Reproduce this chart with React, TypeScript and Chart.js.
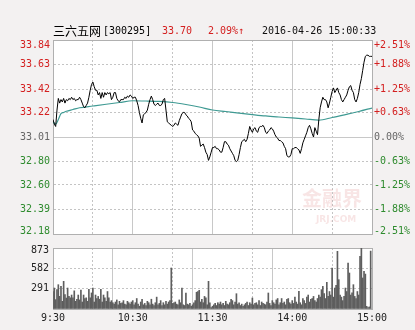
import React, { useEffect, useRef } from 'react';
import { Chart, registerables } from 'chart.js';

Chart.register(...registerables);

// ---------- header text ----------
const stockName = '三六五网';
const stockCode = '[300295]';
const lastPrice = '33.70';
const changePct = '2.09%↑';
const timestamp = '2016-04-26 15:00:33';

// ---------- axis tick labels (top to bottom) ----------
const priceTickLabels = ['33.84', '33.63', '33.42', '33.22', '33.01', '32.80', '32.60', '32.39', '32.18'];
const pctTickLabels = ['+2.51%', '+1.88%', '+1.25%', '+0.63%', '0.00%', '-0.63%', '-1.25%', '-1.88%', '-2.51%'];
const volumeTickValues = [0, 291, 582, 873];
const volumeTickLabels = ['', '291', '582', '873'];
const timeTickMinutes = [0, 30, 60, 90, 120, 150, 180, 210, 240];
const timeTickLabels = ['9:30', '', '10:30', '', '11:30', '', '14:00', '', '15:00'];

// ---------- series (one value per trading minute, 9:30 .. 15:00) ----------
const prices = [
  33.16, 33.12, 33.10, 33.24, 33.34, 33.30, 33.33, 33.31, 33.34, 33.30,
  33.33, 33.32, 33.34, 33.33, 33.35, 33.33, 33.34, 33.32, 33.33, 33.33,
  33.35, 33.33, 33.30, 33.27, 33.26, 33.28, 33.30, 33.35, 33.41, 33.46,
  33.48, 33.44, 33.41, 33.41, 33.37, 33.39, 33.34, 33.39, 33.35, 33.39,
  33.37, 33.39, 33.38, 33.39, 33.33, 33.35, 33.39, 33.39, 33.34, 33.32,
  33.31, 33.33, 33.33, 33.33, 33.35, 33.34, 33.36, 33.35, 33.37, 33.36,
  33.34, 33.35, 33.35, 33.32, 33.28, 33.22, 33.17, 33.13, 33.20, 33.21,
  33.22, 33.24, 33.29, 33.33, 33.36, 33.33, 33.29, 33.28, 33.29, 33.30,
  33.28, 33.28, 33.29, 33.33, 33.34, 33.24, 33.14, 33.13, 33.12, 33.11,
  33.10, 33.11, 33.13, 33.12, 33.11, 33.15, 33.18, 33.21, 33.22, 33.22,
  33.20, 33.19, 33.17, 33.16, 33.14, 33.07, 33.06, 33.04, 33.03, 33.02,
  33.00, 32.93, 32.94, 32.95, 32.92, 32.88, 32.86, 32.81, 32.84, 32.88,
  32.92, 32.92, 32.93, 32.91, 32.91, 32.90, 32.88, 32.88, 32.92, 32.97,
  32.97, 32.95, 32.94, 32.91, 32.89, 32.87, 32.85, 32.81, 32.80, 32.81,
  32.86, 32.92, 32.97, 32.98, 32.99, 32.97, 32.99, 33.04, 33.10, 33.07,
  33.05, 33.08, 33.09, 33.06, 33.05, 33.09, 33.10, 33.10, 33.11, 33.09,
  33.05, 33.04, 33.06, 33.07, 33.09, 33.08, 33.06, 33.03, 33.01, 33.00,
  32.98, 32.98, 32.97, 32.96, 32.93, 32.91, 32.85, 32.84, 32.84, 32.86,
  32.91, 32.91, 32.92, 32.92, 32.91, 32.90, 32.87, 32.91, 32.96, 32.99,
  33.02, 33.05, 33.09, 33.11, 33.08, 33.04, 33.01, 33.09, 33.06, 33.03,
  33.16, 33.26, 33.31, 33.35, 33.33, 33.33, 33.31, 33.26, 33.30, 33.35,
  33.40, 33.43, 33.39, 33.41, 33.43, 33.39, 33.37, 33.33, 33.31, 33.33,
  33.35, 33.37, 33.41, 33.44, 33.45, 33.41, 33.39, 33.33, 33.31, 33.34,
  33.39, 33.46, 33.51, 33.58, 33.65, 33.70, 33.71, 33.71, 33.70, 33.70,
  33.70,
];

const avgMinutes = [0, 2, 4, 6, 8, 10, 15, 20, 30, 40, 50, 60, 70, 80, 90, 100, 110, 120, 130, 140, 150, 160, 170, 180, 190, 200, 210, 220, 230, 240];
const avgPrices = [
  33.14, 33.12, 33.16, 33.21, 33.22, 33.23, 33.245, 33.26, 33.275, 33.29,
  33.305, 33.32, 33.318, 33.314, 33.305, 33.288, 33.267, 33.241, 33.228, 33.215,
  33.202, 33.19, 33.181, 33.173, 33.164, 33.155, 33.177, 33.202, 33.228, 33.258,
];

const volumes = [
  250, 300, 134, 277, 348, 181, 324, 110, 396, 205,
  157, 300, 181, 160, 200, 160, 260, 110, 140, 200,
  130, 270, 100, 200, 150, 160, 110, 280, 160, 230,
  300, 100, 200, 150, 180, 140, 280, 100, 200, 160,
  110, 250, 160, 100, 120, 90, 70, 100, 130, 60,
  110, 80, 90, 120, 70, 60, 110, 90, 70, 100,
  120, 60, 90, 150, 70, 40, 100, 140, 60, 80,
  50, 110, 90, 60, 140, 70, 50, 90, 170, 60,
  80, 120, 50, 90, 60, 110, 70, 100, 120, 587,
  80, 90, 100, 70, 60, 130, 90, 300, 60, 50,
  229, 70, 60, 80, 40, 60, 90, 120, 240, 250,
  267, 100, 140, 90, 180, 160, 60, 396, 90, 20,
  40, 60, 80, 50, 90, 70, 100, 60, 80, 50,
  110, 70, 60, 90, 140, 120, 60, 100, 219, 70,
  90, 50, 70, 40, 60, 80, 100, 50, 90, 70,
  157, 60, 80, 90, 60, 120, 50, 100, 80, 70,
  60, 100, 229, 80, 50, 120, 90, 70, 130, 150,
  60, 90, 150, 80, 100, 60, 140, 150, 90, 70,
  120, 80, 170, 100, 70, 253, 90, 60, 150, 120,
  80, 170, 200, 100, 140, 150, 180, 120, 100, 150,
  200, 170, 277, 324, 220, 150, 382, 180, 250, 200,
  587, 170, 300, 340, 825, 420, 200, 170, 120, 180,
  300, 250, 658, 515, 200, 230, 348, 180, 150, 250,
  200, 753, 873, 444, 539, 500, 38, 20, 30, 829,
  0,
];

// ---------- styles ----------
const MONO = '"DejaVu Sans Mono", "Liberation Mono", monospace';
const CJK = '"Noto Sans CJK SC", sans-serif';
const BG = '#f3f1f1';
const DASH = '#c4c4c4';
const SOLID = '#c8c8c8';
const BORDER = '#b0b0b0';
const RED = '#d42020';
const GREEN = '#2e8b2e';
const GRAY = '#666666';

const plotBg = {
  id: 'plotBg',
  beforeDraw(chart: any) {
    const { ctx, chartArea: a } = chart;
    ctx.save();
    ctx.fillStyle = '#ffffff';
    ctx.fillRect(a.left, a.top, a.right - a.left, a.bottom - a.top);
    ctx.restore();
  },
};

const ascPrice = [...priceTickLabels].reverse();
const ascPct = [...pctTickLabels].reverse();
const priceMin = parseFloat(ascPrice[0]);
const priceMax = parseFloat(ascPrice[ascPrice.length - 1]);
const lastIdx = ascPrice.length - 1;
const midIdx = Math.floor(lastIdx / 2);

const colorFor = (i: number) => (i > midIdx ? RED : i < midIdx ? GREEN : GRAY);
const offsetLabel = (text: string, i: number) =>
  i === lastIdx ? ['', text] : i === 0 ? [text, ''] : text;
const edgeFont = (c: any) => ({
  family: MONO,
  size: 10,
  lineHeight: c.index === lastIdx ? '10px' : c.index === 0 ? '6px' : 1.2,
});

const timeTicks = (s: any) => {
  s.ticks = timeTickMinutes.map((v) => ({ value: v }));
};
const priceTicks = (s: any) => {
  s.ticks = ascPrice.map((v) => ({ value: parseFloat(v) }));
};
const isHour = (c: any) => c.tick && c.tick.value % 60 === 0;
const isInnerHour = (c: any) => isHour(c) && c.tick.value > 0 && c.tick.value < 240;

function mainConfig(): any {
  return {
    type: 'line',
    data: {
      datasets: [
        {
          data: prices.map((p, i) => ({ x: i, y: p })),
          borderColor: '#000000',
          borderWidth: 1,
          pointRadius: 0,
          tension: 0,
          order: 0,
        },
        {
          data: avgMinutes.map((m, i) => ({ x: m, y: avgPrices[i] })),
          borderColor: '#3f9a93',
          borderWidth: 1.2,
          pointRadius: 0,
          cubicInterpolationMode: 'monotone',
          order: 1,
        },
      ],
    },
    options: {
      responsive: false,
      animation: false,
      devicePixelRatio: 1,
      events: [],
      layout: { padding: { top: 40, bottom: 6, left: 0, right: 0 }, autoPadding: false },
      plugins: { legend: { display: false }, tooltip: { enabled: false } },
      scales: {
        x: {
          type: 'linear', axis: 'x', position: 'bottom', min: 0, max: 240, offset: false,
          afterBuildTicks: timeTicks,
          afterFit: (s: any) => { s.height = 0; s.paddingLeft = 0; s.paddingRight = 0; },
          ticks: { display: false },
          grid: { drawTicks: false, color: (c: any) => (isHour(c) ? 'transparent' : DASH) },
          border: { display: true, color: BORDER, dash: [2, 2] },
        },
        xTop: {
          type: 'linear', axis: 'x', position: 'top', min: 0, max: 240, offset: false,
          afterBuildTicks: timeTicks,
          afterFit: (s: any) => { s.height = 0; s.paddingLeft = 0; s.paddingRight = 0; },
          ticks: { display: false },
          grid: { drawTicks: false, color: (c: any) => (isInnerHour(c) ? SOLID : 'transparent') },
          border: { display: true, color: BORDER },
        },
        y: {
          type: 'linear', position: 'left', min: priceMin, max: priceMax,
          afterBuildTicks: priceTicks,
          afterFit: (s: any) => { s.width = 53; s.paddingTop = 0; s.paddingBottom = 0; },
          ticks: {
            autoSkip: false, padding: 3,
            callback: (_v: any, i: number) => offsetLabel(ascPrice[i], i),
            color: (c: any) => colorFor(c.index),
            font: edgeFont,
          },
          grid: {
            drawTicks: false,
            color: (c: any) => (c.index === 0 || c.index === midIdx || c.index === lastIdx ? 'transparent' : DASH),
          },
          border: { color: BORDER, dash: [2, 2] },
        },
        yR: {
          type: 'linear', axis: 'y', position: 'right', min: priceMin, max: priceMax,
          afterBuildTicks: priceTicks,
          afterFit: (s: any) => { s.width = 43; s.paddingTop = 0; s.paddingBottom = 0; },
          ticks: {
            autoSkip: false, padding: 2,
            callback: (_v: any, i: number) => offsetLabel(ascPct[i], i),
            color: (c: any) => colorFor(c.index),
            font: edgeFont,
          },
          grid: { drawTicks: false, color: (c: any) => (c.index === midIdx ? SOLID : 'transparent') },
          border: { color: BORDER },
        },
      },
    },
    plugins: [plotBg],
  };
}

function volConfig(): any {
  return {
    type: 'bar',
    data: {
      datasets: [
        {
          data: volumes.map((v, i) => ({ x: i, y: v })),
          backgroundColor: '#5e5e5e',
          borderWidth: 0,
          barThickness: 1,
        },
      ],
    },
    options: {
      responsive: false,
      animation: false,
      devicePixelRatio: 1,
      events: [],
      layout: { padding: { top: 8, bottom: 0, left: 0, right: 43 }, autoPadding: false },
      plugins: { legend: { display: false }, tooltip: { enabled: false } },
      scales: {
        x: {
          type: 'linear', axis: 'x', position: 'bottom', min: 0, max: 240, offset: false,
          afterBuildTicks: timeTicks,
          afterFit: (s: any) => { s.height = 21; s.paddingLeft = 0; s.paddingRight = 0; },
          ticks: {
            autoSkip: false, maxRotation: 0, padding: 3, color: '#222',
            font: { family: MONO, size: 10 },
            callback: (_v: any, i: number) => timeTickLabels[i],
          },
          grid: { offset: false, drawTicks: false, color: (c: any) => (isHour(c) ? 'transparent' : DASH) },
          border: { display: true, color: BORDER, dash: [2, 2] },
        },
        xTop: {
          type: 'linear', axis: 'x', position: 'top', min: 0, max: 240, offset: false,
          afterBuildTicks: timeTicks,
          afterFit: (s: any) => { s.height = 0; s.paddingLeft = 0; s.paddingRight = 0; },
          ticks: { display: false },
          grid: { drawTicks: false, color: (c: any) => (isInnerHour(c) ? SOLID : 'transparent') },
          border: { display: true, color: BORDER },
        },
        y: {
          type: 'linear', position: 'left', min: 0, max: volumeTickValues[volumeTickValues.length - 1],
          afterBuildTicks: (s: any) => { s.ticks = volumeTickValues.map((v) => ({ value: v })); },
          afterFit: (s: any) => { s.width = 53; s.paddingTop = 0; s.paddingBottom = 0; },
          ticks: {
            autoSkip: false, padding: 4, color: '#222',
            callback: (_v: any, i: number) =>
              i === volumeTickValues.length - 1 ? ['', volumeTickLabels[i]] : volumeTickLabels[i],
            font: (c: any) => ({
              family: MONO, size: 10,
              lineHeight: c.index === volumeTickValues.length - 1 ? '4px' : 1.2,
            }),
          },
          grid: {
            drawTicks: false,
            color: (c: any) => (c.index === 0 || c.index === volumeTickValues.length - 1 ? 'transparent' : DASH),
          },
          border: { color: BORDER, dash: [2, 2] },
        },
        yR: {
          type: 'linear', axis: 'y', position: 'right', min: 0, max: volumeTickValues[volumeTickValues.length - 1],
          afterFit: (s: any) => { s.width = 0; s.paddingTop = 0; s.paddingBottom = 0; },
          ticks: { display: false },
          grid: { display: false },
          border: { display: true, color: BORDER },
        },
      },
    },
    plugins: [plotBg],
  };
}

const headerStyle = (left: number, color: string, family: string, size = 12): React.CSSProperties => ({
  position: 'absolute',
  left,
  top: 24,
  height: 14,
  lineHeight: '14px',
  fontSize: size,
  fontFamily: family,
  color,
  whiteSpace: 'nowrap',
});

export default function App() {
  const mainRef = useRef<HTMLCanvasElement>(null);
  const volRef = useRef<HTMLCanvasElement>(null);

  useEffect(() => {
    const main = new Chart(mainRef.current as HTMLCanvasElement, mainConfig());
    const vol = new Chart(volRef.current as HTMLCanvasElement, volConfig());
    return () => {
      main.destroy();
      vol.destroy();
    };
  }, []);

  return (
    <div style={{ position: 'fixed', left: 0, top: 0, width: 415, height: 330, background: BG, overflow: 'hidden' }}>
      <canvas ref={mainRef} width={415} height={240} style={{ position: 'absolute', left: 0, top: 0, display: 'block' }} />
      <canvas ref={volRef} width={415} height={90} style={{ position: 'absolute', left: 0, top: 240, display: 'block' }} />
      <div style={headerStyle(53, '#000', CJK)}>{stockName}</div>
      <div style={headerStyle(103, '#000', MONO, 10)}>{stockCode}</div>
      <div style={headerStyle(162, RED, MONO, 10)}>{lastPrice}</div>
      <div style={headerStyle(208, RED, MONO, 10)}>{changePct}</div>
      <div style={headerStyle(262, '#111', MONO, 10)}>{timestamp}</div>
      <div
        style={{
          position: 'absolute', left: 302, top: 186, fontSize: 20, lineHeight: '24px',
          fontFamily: CJK, fontWeight: 700, color: 'rgba(215,110,110,0.18)', pointerEvents: 'none',
        }}
      >
        金融界
      </div>
      <div
        style={{
          position: 'absolute', left: 316, top: 214, fontSize: 9, lineHeight: '10px',
          fontFamily: '"DejaVu Sans", sans-serif', fontWeight: 700, color: 'rgba(215,110,110,0.18)', pointerEvents: 'none',
        }}
      >
        JRJ.COM
      </div>
    </div>
  );
}
